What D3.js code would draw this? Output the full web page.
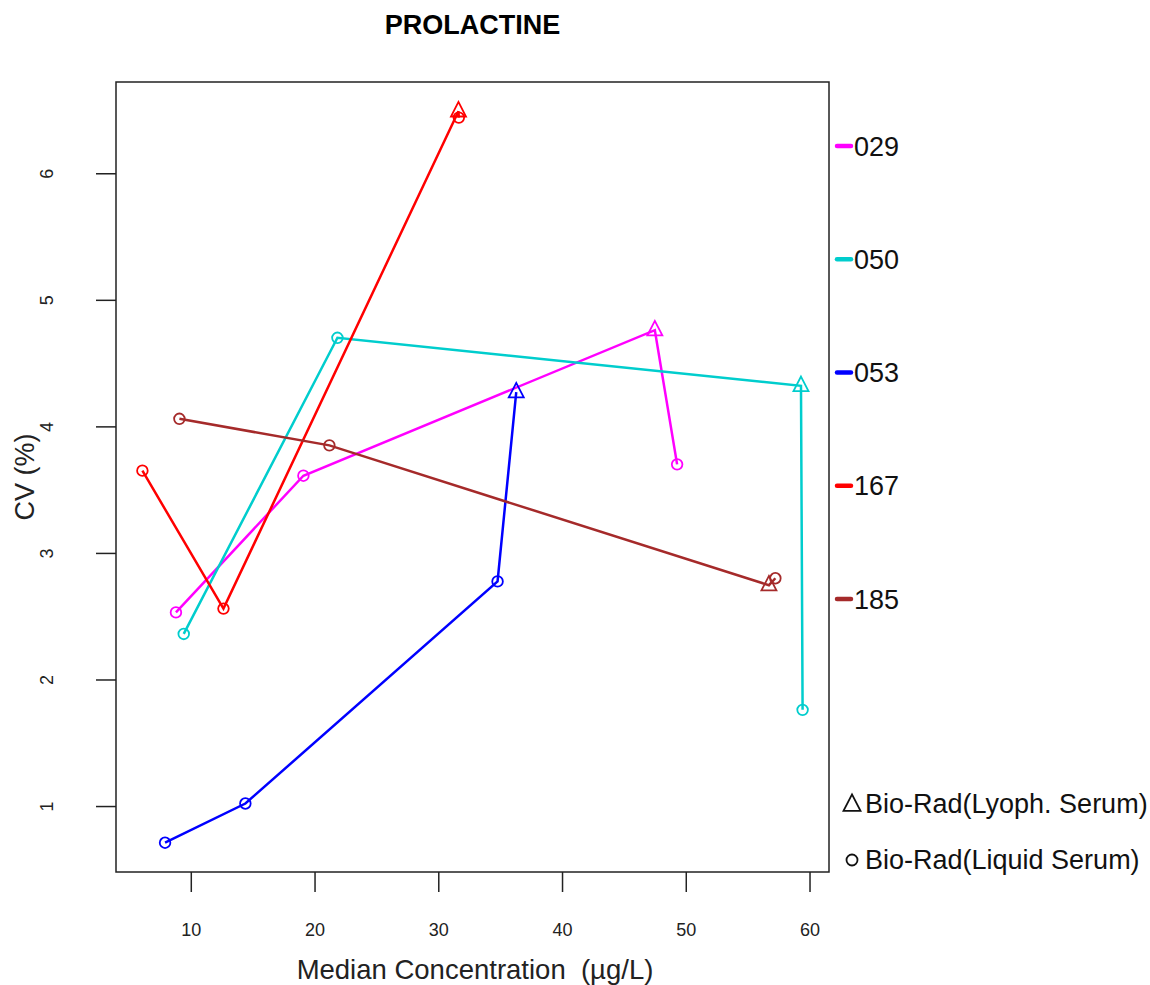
<!DOCTYPE html>
<html><head><meta charset="utf-8">
<script src="https://cdn.jsdelivr.net/npm/d3@7"></script>
<style>body{margin:0;background:#fff}text{font-family:"Liberation Sans",Arial,sans-serif}</style>
</head><body>
<svg id="chart" width="1150" height="985"></svg>
<script>
// ---- data ----
const labs = ["029", "050", "053", "167", "185"];
const labColors = ["#FF00FF", "#00CDCD", "#0000FF", "#FF0000", "#A52A2A"];
// material: "L" = Bio-Rad(Lyoph. Serum) triangle, "Q" = Bio-Rad(Liquid Serum) circle
const conc029 = [8.8, 19.1, 47.5, 49.3];
const cv029   = [2.53, 3.61, 4.76, 3.70];
const mat029  = ["Q", "Q", "L", "Q"];
const conc050 = [9.43, 21.85, 59.31, 59.44];
const cv050   = [2.36, 4.70, 4.32, 1.76];
const mat050  = ["Q", "Q", "L", "Q"];
const conc053 = [7.92, 14.41, 34.79, 36.3];
const cv053   = [0.71, 1.02, 2.775, 4.27];
const mat053  = ["Q", "Q", "Q", "L"];
const conc167 = [6.09, 12.64, 31.63, 31.66];
const cv167   = [3.65, 2.56, 6.49, 6.44];
const mat167  = ["Q", "Q", "L", "Q"];
const conc185 = [9.08, 21.2, 56.72, 57.24];
const cv185   = [4.06, 3.85, 2.745, 2.80];
const mat185  = ["Q", "Q", "L", "Q"];
const xTicks = [10, 20, 30, 40, 50, 60];
const yTicks = [1, 2, 3, 4, 5, 6];
const materialLabels = ["Bio-Rad(Lyoph. Serum)", "Bio-Rad(Liquid Serum)"];

const seriesData = [
  [conc029, cv029, mat029], [conc050, cv050, mat050], [conc053, cv053, mat053],
  [conc167, cv167, mat167], [conc185, cv185, mat185]
].map(([c, v, m], i) => ({lab: labs[i], color: labColors[i],
  pts: c.map((x, j) => ({x, y: v[j], m: m[j]}))}));

// ---- layout ----
const L = 116, R = 829, T = 82, B = 872;
const svg = d3.select("#chart");
const allX = seriesData.flatMap(s => s.pts.map(p => p.x));
const allY = seriesData.flatMap(s => s.pts.map(p => p.y));
const xe = d3.extent(allX), ye = d3.extent(allY);
const xp = (xe[1] - xe[0]) * 0.04, yp = (ye[1] - ye[0]) * 0.04;
const x = d3.scaleLinear().domain([xe[0] - xp, xe[1] + xp]).range([L, R]);
const y = d3.scaleLinear().domain([ye[0] - yp, ye[1] + yp]).range([B, T]);

const tri = (s) => `M0,${-s*0.62}L${s/2},${s*0.35}L${-s/2},${s*0.35}Z`;

// axes
const xa = svg.append("g").attr("transform", `translate(0,${B})`)
  .call(d3.axisBottom(x).tickValues(xTicks).tickFormat(d3.format("d")).tickSize(20).tickPadding(44).tickSizeOuter(0));
xa.select(".domain").remove();
xa.selectAll("line").attr("stroke", "#222").attr("stroke-width", 1.5);
xa.selectAll("text").attr("font-size", 18).attr("fill", "#222").attr("dy", 0);

const ya = svg.append("g").attr("transform", `translate(${L},0)`)
  .call(d3.axisLeft(y).tickValues(yTicks).tickFormat(d3.format("d")).tickSize(20).tickSizeOuter(0));
ya.select(".domain").remove();
ya.selectAll("line").attr("stroke", "#222").attr("stroke-width", 1.5);
ya.selectAll("text").attr("font-size", 18).attr("fill", "#222")
  .attr("x", null).attr("dy", null)
  .attr("text-anchor", "middle")
  .attr("transform", `translate(-68,0) rotate(-90)`)
  .attr("dominant-baseline", "middle");

// box
svg.append("rect").attr("x", L).attr("y", T).attr("width", R - L).attr("height", B - T)
  .attr("fill", "none").attr("stroke", "#222").attr("stroke-width", 1.5);

// series
const line = d3.line().x(d => x(d.x)).y(d => y(d.y));
seriesData.forEach(s => {
  const g = svg.append("g");
  g.append("path").attr("d", line(s.pts)).attr("fill", "none")
    .attr("stroke", s.color).attr("stroke-width", 2.5);
  s.pts.forEach(p => {
    if (p.m === "L") {
      g.append("path").attr("d", tri(15)).attr("transform", `translate(${x(p.x)},${y(p.y)})`)
        .attr("fill", "none").attr("stroke", s.color).attr("stroke-width", 1.8);
    } else {
      g.append("circle").attr("cx", x(p.x)).attr("cy", y(p.y)).attr("r", 5.3)
        .attr("fill", "none").attr("stroke", s.color).attr("stroke-width", 1.8);
    }
  });
});

// title & labels
svg.append("text").attr("x", (L + R) / 2).attr("y", 34).attr("text-anchor", "middle")
  .attr("font-size", 27).attr("font-weight", "bold").text("PROLACTINE");
svg.append("text").attr("x", 475).attr("y", 979).attr("text-anchor", "middle")
  .attr("font-size", 27.5).attr("fill", "#222").text("Median Concentration\u00A0\u00A0(µg/L)");
svg.append("text").attr("transform", `translate(34,${(T + B) / 2}) rotate(-90)`)
  .attr("text-anchor", "middle").attr("font-size", 27).attr("fill", "#222").text("CV (%)");

// lab legend
const legY = d3.scalePoint().domain(labs).range([146, 599]);
labs.forEach((lab, i) => {
  svg.append("line").attr("x1", 837).attr("x2", 851).attr("y1", legY(lab)).attr("y2", legY(lab))
    .attr("stroke", labColors[i]).attr("stroke-width", 4.5).attr("stroke-linecap", "round");
  svg.append("text").attr("x", 854).attr("y", legY(lab) + 9.5).attr("font-size", 27)
    .attr("fill", "#111").text(lab);
});

// material legend
svg.append("path").attr("d", tri(17)).attr("transform", "translate(852,805)")
  .attr("fill", "none").attr("stroke", "#111").attr("stroke-width", 1.8);
svg.append("text").attr("x", 865).attr("y", 813).attr("font-size", 27).attr("fill", "#111").text(materialLabels[0]);
svg.append("circle").attr("cx", 852).attr("cy", 860).attr("r", 5.5)
  .attr("fill", "none").attr("stroke", "#111").attr("stroke-width", 1.8);
svg.append("text").attr("x", 865).attr("y", 869).attr("font-size", 27).attr("fill", "#111").text(materialLabels[1]);
</script>
</body></html>
